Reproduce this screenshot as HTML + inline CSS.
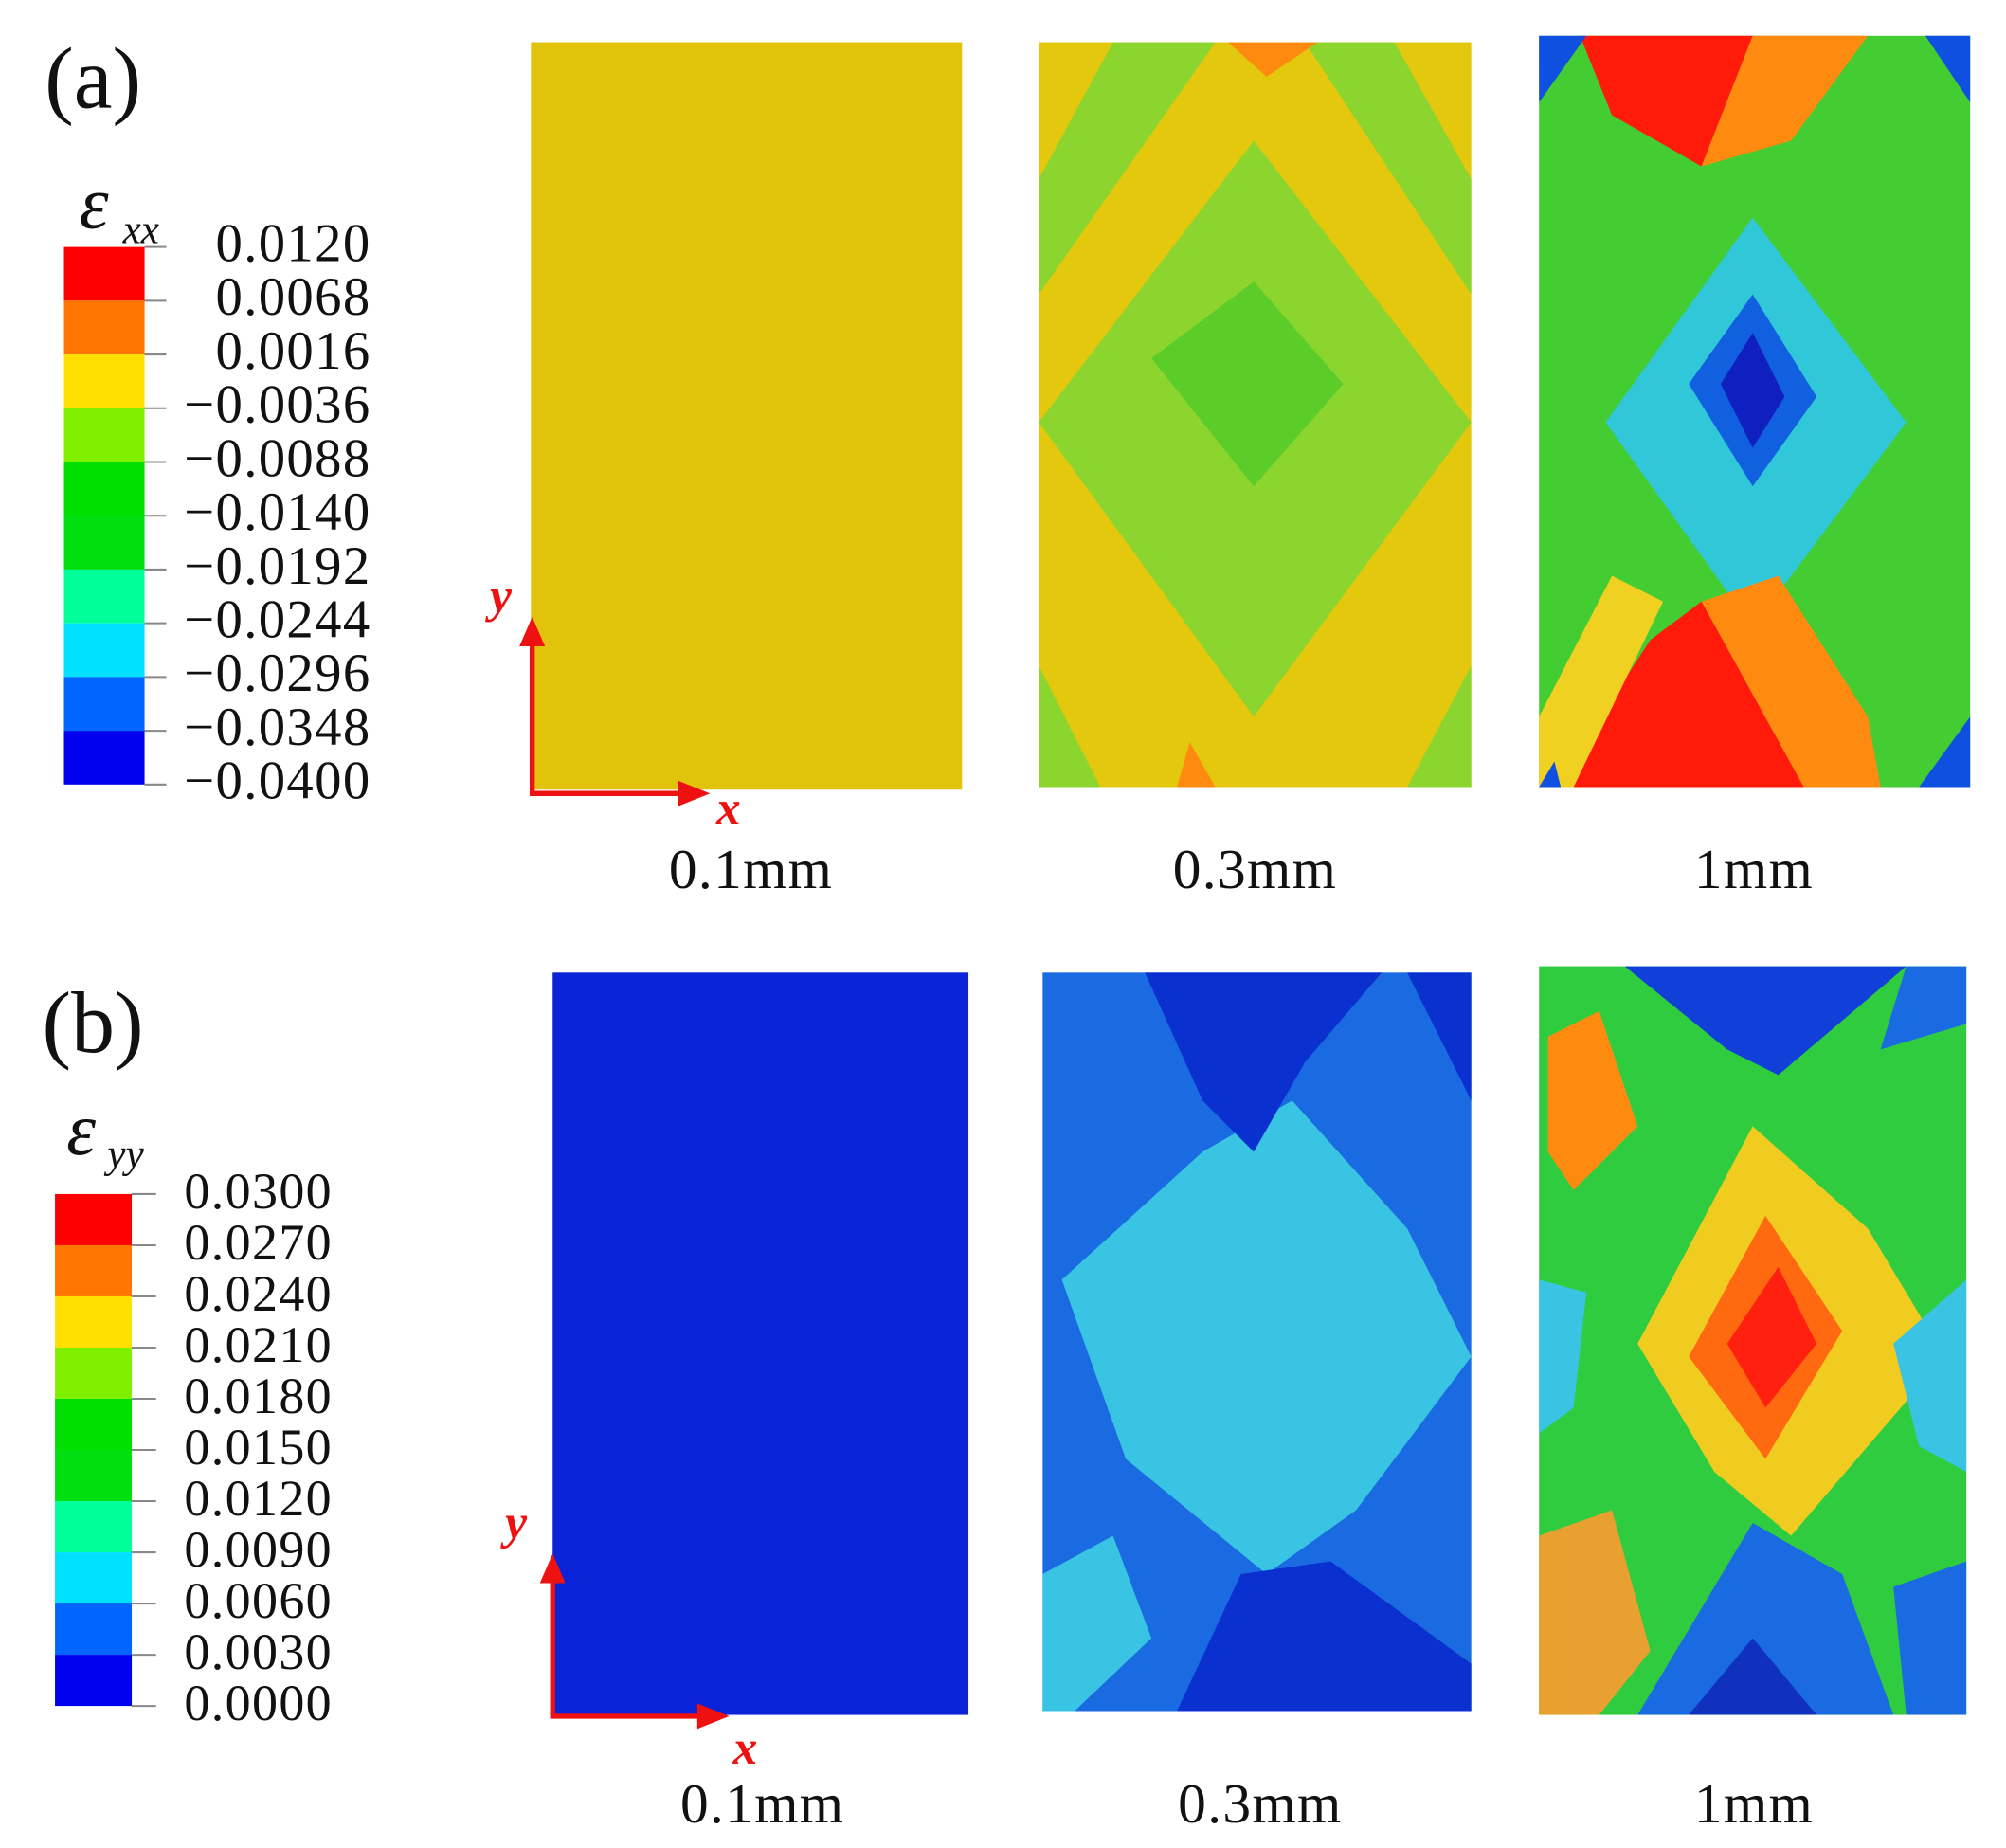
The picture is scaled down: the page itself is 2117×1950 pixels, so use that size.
<!DOCTYPE html>
<html><head><meta charset="utf-8"><style>
html,body{margin:0;padding:0;background:#fff}
svg{display:block}
text{font-family:"Liberation Serif",serif;fill:#111}
</style></head><body>
<svg width="2117" height="1950" viewBox="0 0 1568 1444" preserveAspectRatio="none" xmlns="http://www.w3.org/2000/svg">
<!-- (a) -->
<text x="35" y="84" font-size="68">(a)</text>
<text x="62" y="178" font-size="58" font-style="italic">ε</text>
<text x="96" y="190" font-size="32" font-style="italic">xx</text>
<g>
<rect x="50" y="193" width="63" height="42" fill="#ff0000"/>
<rect x="50" y="235" width="63" height="42" fill="#ff7700"/>
<rect x="50" y="277" width="63" height="42" fill="#ffe000"/>
<rect x="50" y="319" width="63" height="42" fill="#80f000"/>
<rect x="50" y="361" width="63" height="42" fill="#00e000"/>
<rect x="50" y="403" width="63" height="42" fill="#00e010"/>
<rect x="50" y="445" width="63" height="42" fill="#00ff99"/>
<rect x="50" y="487" width="63" height="42" fill="#00e0ff"/>
<rect x="50" y="529" width="63" height="42" fill="#0066ff"/>
<rect x="50" y="571" width="63" height="42" fill="#0000ee"/>
</g>
<g stroke="#888" stroke-width="1.5">
<line x1="113" y1="193" x2="130" y2="193"/><line x1="113" y1="235" x2="130" y2="235"/><line x1="113" y1="277" x2="130" y2="277"/><line x1="113" y1="319" x2="130" y2="319"/><line x1="113" y1="361" x2="130" y2="361"/><line x1="113" y1="403" x2="130" y2="403"/><line x1="113" y1="445" x2="130" y2="445"/><line x1="113" y1="487" x2="130" y2="487"/><line x1="113" y1="529" x2="130" y2="529"/><line x1="113" y1="571" x2="130" y2="571"/><line x1="113" y1="613" x2="130" y2="613"/>
</g>
<g font-size="42" text-anchor="end" letter-spacing="1">
<text x="290" y="204">0.0120</text><text x="290" y="246">0.0068</text><text x="290" y="288">0.0016</text><text x="290" y="330">−0.0036</text><text x="290" y="372">−0.0088</text><text x="290" y="414">−0.0140</text><text x="290" y="456">−0.0192</text><text x="290" y="498">−0.0244</text><text x="290" y="540">−0.0296</text><text x="290" y="582">−0.0348</text><text x="290" y="624">−0.0400</text>
</g>
<!-- a1 -->
<rect x="415" y="33" width="337" height="584" fill="#e0c30a"/>
<!-- a2 -->
<rect x="812" y="33" width="338" height="582" fill="#e3c80e"/>
<polygon points="812,330 980,110 1150,330 980,560" fill="#8bd52e"/>
<polygon points="812,140 870,33 950,33 812,230" fill="#8bd52e"/>
<polygon points="1150,140 1090,33 1020,33 1150,230" fill="#8bd52e"/>
<polygon points="812,520 860,615 812,615" fill="#8bd52e"/>
<polygon points="1150,520 1100,615 1150,615" fill="#8bd52e"/>
<polygon points="900,280 980,220 1050,300 980,380" fill="#5ccc28"/>
<polygon points="960,33 1030,33 990,60" fill="#ff8a10"/>
<polygon points="930,580 950,615 920,615" fill="#ff8a10"/>
<!-- a3 -->
<rect x="1203" y="28" width="337" height="587" fill="#44cc33"/>
<polygon points="1235,28 1370,28 1330,130 1260,90" fill="#ff1a0a"/>
<polygon points="1370,28 1460,28 1400,110 1330,130" fill="#ff8a10"/>
<polygon points="1203,80 1240,28 1203,28" fill="#1050e0"/>
<polygon points="1540,80 1505,28 1540,28" fill="#1050e0"/>
<polygon points="1255,330 1370,170 1490,330 1370,490" fill="#30c8d8"/>
<polygon points="1320,300 1370,230 1420,310 1370,380" fill="#1060e0"/>
<polygon points="1345,300 1370,260 1395,310 1370,350" fill="#1020c0"/>
<polygon points="1215,615 1290,500 1330,470 1410,615" fill="#ff1a0a"/>
<polygon points="1410,615 1330,470 1390,450 1460,560 1470,615" fill="#ff8a10"/>
<polygon points="1203,560 1260,450 1300,470 1230,615 1203,615" fill="#f0d020"/>
<polygon points="1203,615 1215,595 1220,615" fill="#1050e0"/>
<polygon points="1540,560 1500,615 1540,615" fill="#1050e0"/>
<!-- axes a -->
<g stroke="#ee1111" stroke-width="4">
<line x1="416" y1="620" x2="416" y2="500"/>
<line x1="414" y1="620" x2="535" y2="620"/>
</g>
<g fill="#ee1111">
<polygon points="406,505 416,482 426,505"/>
<polygon points="530,610 555,620 530,630"/>
</g>
<text x="383" y="478" font-size="38" font-style="italic" font-weight="bold" style="fill:#ee1111">y</text>
<text x="560" y="644" font-size="38" font-style="italic" font-weight="bold" style="fill:#ee1111">x</text>
<g font-size="44" text-anchor="middle" letter-spacing="1">
<text x="587" y="694">0.1mm</text><text x="981" y="694">0.3mm</text><text x="1371" y="694">1mm</text>
</g>
<!-- (b) -->
<text x="33" y="822" font-size="68">(b)</text>
<text x="52" y="902" font-size="58" font-style="italic">ε</text>
<text x="84" y="912" font-size="32" font-style="italic">yy</text>
<g>
<rect x="43" y="933" width="60" height="40" fill="#ff0000"/>
<rect x="43" y="973" width="60" height="40" fill="#ff7700"/>
<rect x="43" y="1013" width="60" height="40" fill="#ffe000"/>
<rect x="43" y="1053" width="60" height="40" fill="#80f000"/>
<rect x="43" y="1093" width="60" height="40" fill="#00e000"/>
<rect x="43" y="1133" width="60" height="40" fill="#00e010"/>
<rect x="43" y="1173" width="60" height="40" fill="#00ff99"/>
<rect x="43" y="1213" width="60" height="40" fill="#00e0ff"/>
<rect x="43" y="1253" width="60" height="40" fill="#0066ff"/>
<rect x="43" y="1293" width="60" height="40" fill="#0000ee"/>
</g>
<g stroke="#888" stroke-width="1.5">
<line x1="103" y1="933" x2="122" y2="933"/><line x1="103" y1="973" x2="122" y2="973"/><line x1="103" y1="1013" x2="122" y2="1013"/><line x1="103" y1="1053" x2="122" y2="1053"/><line x1="103" y1="1093" x2="122" y2="1093"/><line x1="103" y1="1133" x2="122" y2="1133"/><line x1="103" y1="1173" x2="122" y2="1173"/><line x1="103" y1="1213" x2="122" y2="1213"/><line x1="103" y1="1253" x2="122" y2="1253"/><line x1="103" y1="1293" x2="122" y2="1293"/><line x1="103" y1="1333" x2="122" y2="1333"/>
</g>
<g font-size="40" text-anchor="end" letter-spacing="1">
<text x="260" y="944">0.0300</text><text x="260" y="984">0.0270</text><text x="260" y="1024">0.0240</text><text x="260" y="1064">0.0210</text><text x="260" y="1104">0.0180</text><text x="260" y="1144">0.0150</text><text x="260" y="1184">0.0120</text><text x="260" y="1224">0.0090</text><text x="260" y="1264">0.0060</text><text x="260" y="1304">0.0030</text><text x="260" y="1344">0.0000</text>
</g>
<!-- b1 -->
<rect x="432" y="760" width="325" height="580" fill="#0a22d8"/>
<!-- b2 -->
<rect x="815" y="760" width="335" height="577" fill="#1a6ae2"/>
<polygon points="830,1000 940,900 1010,860 1100,960 1150,1060 1060,1180 990,1230 880,1140" fill="#38c4e2"/>
<polygon points="895,760 1080,760 1020,830 980,900 940,860" fill="#0a30d0"/>
<polygon points="920,1337 970,1230 1040,1220 1150,1300 1150,1337" fill="#0a30d0"/>
<polygon points="1100,760 1150,760 1150,860" fill="#0a30d0"/>
<polygon points="815,1230 870,1200 900,1280 840,1337 815,1337" fill="#38c4e2"/>
<!-- b3 -->
<rect x="1203" y="755" width="334" height="585" fill="#30cc40"/>
<polygon points="1270,755 1490,755 1390,840 1350,820" fill="#1040d8"/>
<polygon points="1490,755 1537,755 1537,800 1470,820" fill="#1a6ae2"/>
<polygon points="1280,1050 1370,880 1460,960 1520,1060 1400,1200 1340,1150" fill="#f0cc20"/>
<polygon points="1320,1060 1380,950 1440,1040 1380,1140" fill="#ff6a10"/>
<polygon points="1350,1050 1390,990 1420,1050 1380,1100" fill="#ff2010"/>
<polygon points="1210,810 1250,790 1280,880 1230,930 1210,900" fill="#ff8a10"/>
<polygon points="1203,1000 1240,1010 1230,1100 1203,1120" fill="#38c4e2"/>
<polygon points="1480,1050 1537,1000 1537,1150 1500,1130" fill="#38c4e2"/>
<polygon points="1280,1340 1370,1190 1440,1230 1480,1340" fill="#1a6ae2"/>
<polygon points="1320,1340 1370,1280 1420,1340" fill="#1030c0"/>
<polygon points="1203,1200 1260,1180 1290,1290 1250,1340 1203,1340" fill="#e8a030"/>
<polygon points="1480,1240 1537,1220 1537,1340 1490,1340" fill="#1a6ae2"/>
<!-- axes b -->
<g stroke="#ee1111" stroke-width="4">
<line x1="432" y1="1341" x2="432" y2="1232"/>
<line x1="430" y1="1341" x2="550" y2="1341"/>
</g>
<g fill="#ee1111">
<polygon points="422,1237 432,1214 442,1237"/>
<polygon points="545,1331 570,1341 545,1351"/>
</g>
<text x="395" y="1202" font-size="38" font-style="italic" font-weight="bold" style="fill:#ee1111">y</text>
<text x="573" y="1378" font-size="38" font-style="italic" font-weight="bold" style="fill:#ee1111">x</text>
<g font-size="44" text-anchor="middle" letter-spacing="1">
<text x="596" y="1424">0.1mm</text><text x="985" y="1424">0.3mm</text><text x="1371" y="1424">1mm</text>
</g>
</svg>
</body></html>
